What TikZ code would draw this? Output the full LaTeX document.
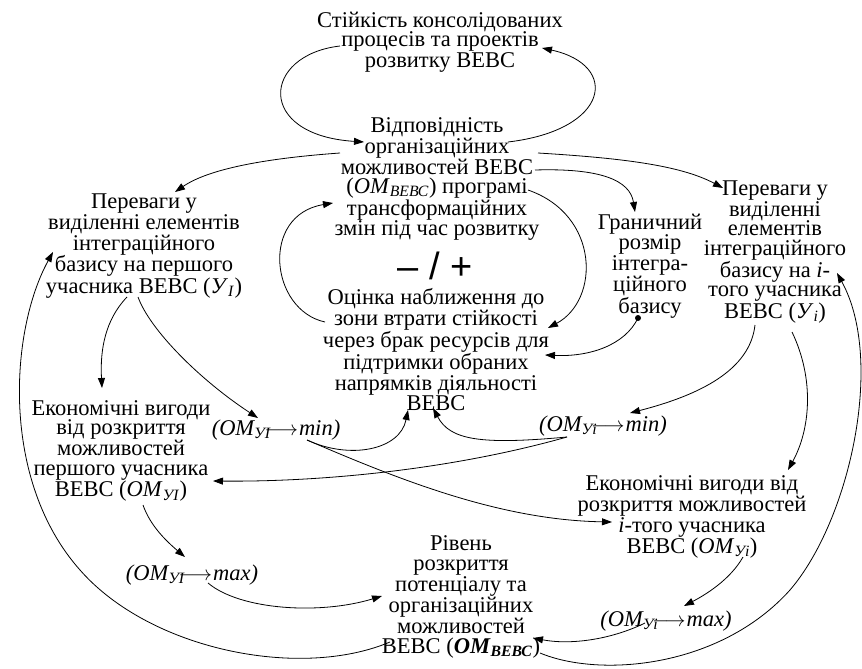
\documentclass[tikz,border=0pt]{standalone}
\usepackage{fontspec}
\setmainfont{Liberation Serif}
\newfontfamily\sansf{Liberation Sans}
\usetikzlibrary{arrows.meta,calc}
\newcommand{\omarrow}[2]{\textit{(OM\textsubscript{#1}}\kern-6pt$\longrightarrow$\kern1pt\textit{#2)}}
\begin{document}
\begin{tikzpicture}[x=1pt,y=-1pt,
  lbl/.style={align=center, inner sep=0pt, font=\fontsize{22.5}{19.5}\selectfont},
  conn/.style={line width=0.8pt, -{Triangle[length=10pt,width=7pt]}},
  plain/.style={line width=0.8pt}]
\useasboundingbox (0,0) rectangle (862,669);
% nodes
\node[lbl] (top) at (440,42) {Стійкість консолідованих\\процесів та проектів\\розвитку ВЕВС};
\node[lbl] (vid) at (437,179) {Відповідність\\організаційних\\можливостей ВЕВС\\(\textit{OM}\textsubscript{\textit{ВЕВС}}) програмі\\трансформаційних\\змін під час розвитку};
\node[lbl] (y1) at (144,246) {Переваги у\\виділенні елементів\\інтеграційного\\базису на першого\\учасника ВЕВС (\textit{У}\textsubscript{\textit{I}})};
\node[lbl] (yi) at (775,252) {Переваги у\\виділенні\\елементів\\інтеграційного\\базису на \textit{i}-\\того учасника\\ВЕВС (\textit{У}\textsubscript{\textit{i}})};
\node[lbl] (gran) at (650,266) {Граничний\\розмір\\інтегра-\\ційного\\базису};
\node[inner sep=0pt, font=\sansf\fontsize{38}{38}\selectfont] (pm) at (435,266) {– / +};
\node[lbl] (ots) at (436,350) {Оцінка наближення до\\зони втрати стійкості\\через брак ресурсів для\\підтримки обраних\\напрямків діяльності\\ВЕВС};
\node[lbl] (eky1) at (121,451) {Економічні вигоди\\від розкриття\\можливостей\\першого учасника\\ВЕВС (\textit{OM}\textsubscript{\textit{УI}})};
\node[lbl] (omy1min) at (276,430) {\omarrow{УI}{min}};
\node[lbl] (omyimin) at (603,426) {\omarrow{Уi}{min}};
\node[lbl] (ekyi) at (692,517) {Економічні вигоди від\\розкриття можливостей\\\textit{i}-того учасника\\ВЕВС (\textit{OM}\textsubscript{\textit{Уi}})};
\node[lbl] (riv) at (461,597) {Рівень\\розкриття\\потенціалу та\\організаційних\\можливостей\\ВЕВС (\textbf{\textit{OM}\textsubscript{\textit{ВЕВС}}})};
\node[lbl] (omy1max) at (192,575) {\omarrow{УI}{max}};
\node[lbl] (omyimax) at (666,621) {\omarrow{Уi}{max}};
\coordinate (gdot) at ($(gran)+(-12,52)$);
\fill (gdot) circle[radius=3pt];
% connectors
\draw[conn] ($(top)+(-100,4)$) .. controls (262,55) and (255,135) .. ($(vid)+(-73,-37)$);
\draw[conn] ($(vid)+(71,-37)$) .. controls (610,130) and (620,65) .. ($(top)+(102,6)$);
\draw[conn] ($(vid)+(-97,-26)$) .. controls (270,158) and (210,168) .. ($(y1)+(31,-54)$);
\draw[conn] ($(vid)+(101,-26)$) .. controls (620,158) and (680,165) .. ($(yi)+(-52,-64)$);
\draw[conn] ($(vid)+(98,-9)$) .. controls (600,168) and (630,180) .. ($(gran)+(-15,-54)$);
\draw[conn] ($(vid)+(91,11)$) .. controls (600,215) and (600,300) .. ($(ots)+(112,-22)$);
\draw[conn] ($(ots)+(-111,-28)$) .. controls (270,310) and (260,215) .. ($(vid)+(-104,24)$);
\draw[conn] (gdot) .. controls (625,345) and (590,357) .. ($(ots)+(109,5)$);
\draw[conn] ($(y1)+(-17,51)$) .. controls (105,320) and (100,350) .. ($(eky1)+(-19,-63)$);
\draw[conn] ($(y1)+(-6,51)$) .. controls (150,330) and (200,380) .. ($(omy1min)+(-18,-12)$);
\draw[conn] ($(omy1min)+(31,10)$) .. controls (350,460) and (400,450) .. ($(ots)+(-28,60)$);
\draw[conn] ($(omyimin)+(-36,11)$) .. controls (480,445) and (450,440) .. ($(ots)+(-3,58)$);
\draw[conn] ($(omyimin)+(-36,11)$) .. controls (450,470) and (320,482) .. ($(eky1)+(92,30)$);
\draw[conn] ($(omy1min)+(31,10)$) .. controls (400,480) and (500,520) .. ($(ekyi)+(-80,5)$);
\draw[conn] ($(yi)+(-20,73)$) .. controls (750,370) and (700,395) .. ($(omyimin)+(27,-13)$);
\draw[conn] ($(yi)+(17,80)$) .. controls (815,380) and (810,430) .. ($(ekyi)+(96,-47)$);
\draw[conn] ($(riv)+(79,56)$) .. controls (600,678) and (720,668) .. (790,590) .. controls (850,520) and (885,360) .. ($(yi)+(62,21)$);
\draw[conn] ($(riv)+(-71,45)$) .. controls (300,680) and (150,650) .. (80,570) .. controls (0,480) and (10,330) .. ($(y1)+(-91,6)$);
\draw[conn] ($(eky1)+(22,54)$) .. controls (150,525) and (165,540) .. ($(omy1max)+(-7,-18)$);
\draw[conn] ($(omy1max)+(16,8)$) .. controls (240,610) and (320,615) .. ($(riv)+(-79,-1)$);
\draw[conn] ($(ekyi)+(51,40)$) .. controls (730,580) and (705,595) .. ($(omyimax)+(18,-15)$);
\draw[conn] ($(omyimax)+(-21,2)$) .. controls (610,640) and (570,645) .. ($(riv)+(72,41)$);
\end{tikzpicture}
\end{document}
